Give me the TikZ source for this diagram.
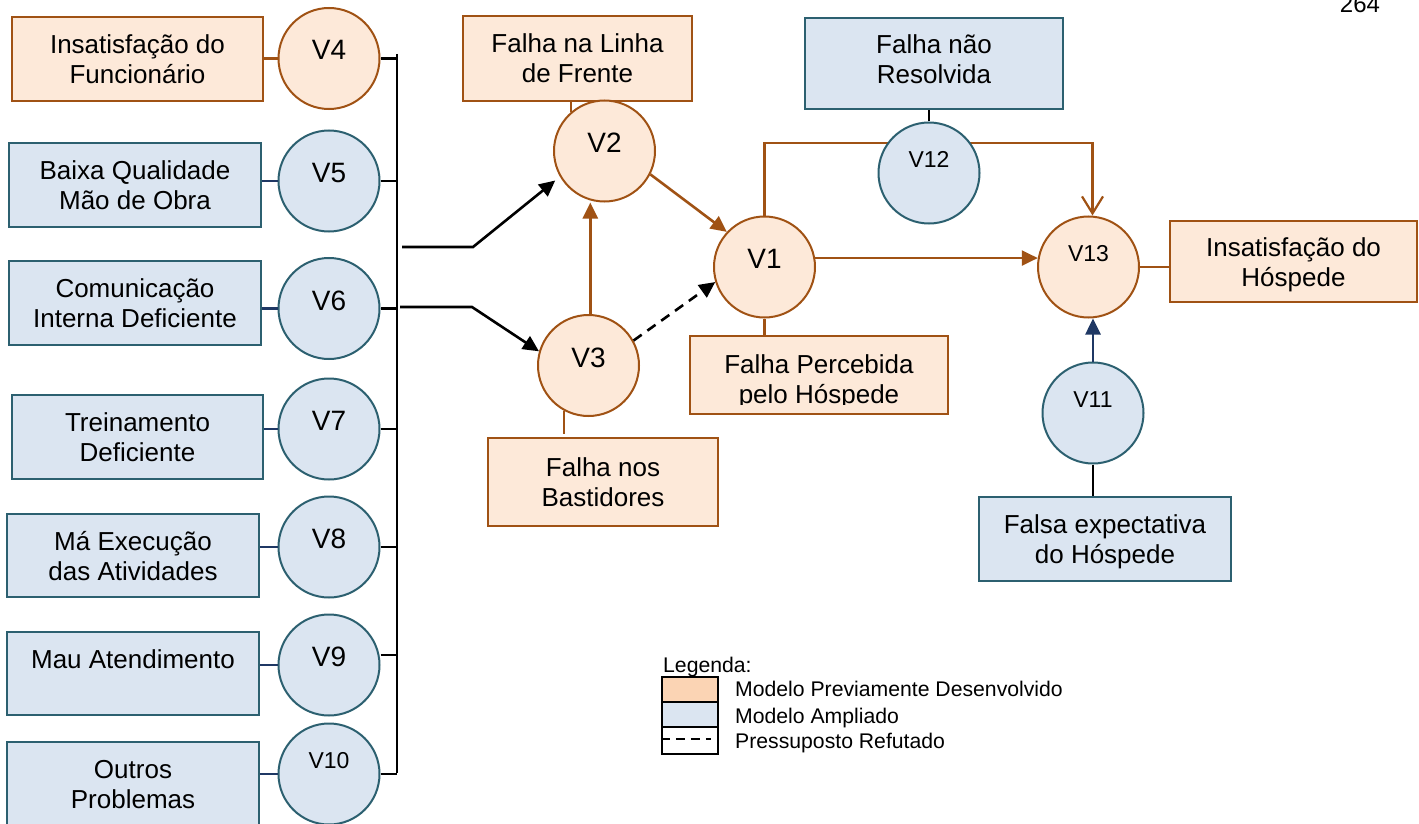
\documentclass[tikz,border=0pt]{standalone}
\usepackage{fontspec}
\setmainfont{Liberation Sans}
\usetikzlibrary{arrows.meta,backgrounds}

\definecolor{ofill}{HTML}{FDE9D9}
\definecolor{obrd}{RGB}{160,82,20}
\definecolor{bfill}{HTML}{DBE5F1}
\definecolor{bbrd}{RGB}{44,96,112}
\definecolor{navy}{HTML}{1F3864}
\definecolor{legor}{HTML}{FBD4B4}

% one text line with fixed cap-height extent, so two-line blocks centre evenly
\newcommand\bxl[1]{\rule{0pt}{19pt}\smash{#1}}

\tikzset{
  boxtxt/.style={inner sep=0pt, align=center, font=\fontsize{26}{30}\selectfont},
  box/.style={rectangle, line width=2.2pt, boxtxt},
  obox/.style={box, draw=obrd, fill=ofill},
  bbox/.style={box, draw=bbrd, fill=bfill},
  vc/.style={circle, line width=2pt, inner sep=0pt, minimum size=101pt},
  ovc/.style={vc, draw=obrd, fill=ofill},
  bvc/.style={vc, draw=bbrd, fill=bfill},
  vbig/.style={font=\fontsize{28}{30}\selectfont, text height=20pt, text depth=17pt},
  vsmall/.style={font=\fontsize{23}{26}\selectfont, text height=16.5pt, text depth=28pt},
  olink/.style={draw=obrd, line width=2.2pt},
  nlink/.style={draw=navy, line width=2.2pt},
  klink/.style={draw=black, line width=2.2pt},
  bus/.style={draw=black, line width=2.5pt},
  tipf/.style={-{Triangle[length=16pt,width=15pt]}},
  karr/.style={draw=black, line width=2.6pt, tipf},
  oarr/.style={draw=obrd, line width=2.6pt, tipf},
  narr/.style={draw=navy, line width=2.6pt, tipf},
  darr/.style={draw=black, line width=2.6pt, dash pattern=on 10pt off 7pt, tipf},
  lgt/.style={inner sep=0pt, font=\fontsize{21.2}{25}\selectfont},
  swatch/.style={rectangle, draw=black, line width=2.2pt, inner sep=0pt, minimum width=56pt},
}

\begin{document}
\begin{tikzpicture}[x=1pt, y=-1pt]
\useasboundingbox (0,0) rectangle (1419,824);

% ---- left column: causes and their variables ----
\node[obox, minimum width=251pt, minimum height=84pt] (B4) at (137.5,59) {\bxl{Insatisfação do}\\\bxl{Funcionário}};
\node[bbox, minimum width=252pt, minimum height=84pt] (B5) at (135,185) {\bxl{Baixa Qualidade}\\\bxl{Mão de Obra}};
\node[bbox, minimum width=252pt, minimum height=84pt] (B6) at (135,303) {\bxl{Comunicação}\\\bxl{Interna Deficiente}};
\node[bbox, minimum width=251pt, minimum height=84pt] (B7) at (137.5,437) {\bxl{Treinamento}\\\bxl{Deficiente}};
\node[bbox, minimum width=252pt, minimum height=83pt] (B8) at (133,555.5) {\bxl{Má Execução}\\\bxl{das Atividades}};
\node[bbox, minimum width=252pt, minimum height=83pt] (B9) at (133,673.5) {\bxl{Mau Atendimento}\\\bxl{}};
\node[bbox, minimum width=252pt, minimum height=84pt] (B10) at (133,784) {\bxl{Outros}\\\bxl{Problemas}};

\node[ovc, vbig] (V4) at (329,58.5) {V4};
\node[bvc, vbig] (V5) at (329,181) {V5};
\node[bvc, vbig] (V6) at (329,308.5) {V6};
\node[bvc, vbig] (V7) at (329,429) {V7};
\node[bvc, vbig] (V8) at (329,547) {V8};
\node[bvc, vbig] (V9) at (329,665) {V9};
\node[bvc, vsmall] (V10) at (329,774) {V10};

% ---- centre: failure variables ----
\node[obox, minimum width=229pt, minimum height=85pt] (LIN) at (577.5,58.5) {\bxl{Falha na Linha}\\\bxl{de Frente}};
\node[ovc, vbig] (V2) at (604.5,151) {V2};
\node[ovc, vbig] (V3) at (588.5,365.5) {V3};
\node[obox, minimum width=230pt, minimum height=88pt] (BAS) at (603,482) {\bxl{Falha nos}\\\bxl{Bastidores}};
\node[ovc, vbig] (V1) at (764.5,267) {V1};
\node[obox, minimum width=258pt, minimum height=78pt] (PER) at (819,375) {};
\begin{scope}
  \clip (PER.north west) rectangle ([yshift=11pt]PER.south east);
  \node[boxtxt] (PERt) at (819,378.5) {\bxl{Falha Percebida}\\\bxl{pelo Hóspede}};
\end{scope}

% ---- right: outcome ----
\node[bbox, minimum width=258pt, minimum height=91pt] (RES) at (934,63.5) {};
\node[boxtxt] (RESt) at (934,59) {\bxl{Falha não}\\\bxl{Resolvida}};
\node[bvc, vsmall] (V12) at (929,173) {V12};
\node[ovc, vsmall] (V13) at (1088.5,267) {V13};
\node[obox, minimum width=247pt, minimum height=81pt] (HOS) at (1293.5,261.5) {\bxl{Insatisfação do}\\\bxl{Hóspede}};
\node[bvc, vsmall] (V11) at (1093,413) {V11};
\node[bbox, minimum width=252pt, minimum height=84pt] (FAL) at (1105,539) {\bxl{Falsa expectativa}\\\bxl{do Hóspede}};

\node[inner sep=0pt, anchor=base, font=\fontsize{24}{28}\selectfont] (pg) at (1360,13) {264};

% ---- legend ----
\node[lgt, anchor=base west] (legT) at (663,672) {Legenda:};
\node[swatch, fill=legor, minimum height=25pt] (sw1) at (690,689.5) {};
\node[swatch, fill=bfill, minimum height=25pt] (sw2) at (690,714.5) {};
\node[swatch, fill=white, minimum height=27pt] (sw3) at (690,740.5) {};
\draw[black, line width=1.8pt, dash pattern=on 9pt off 6pt] ([yshift=1.5pt]sw3.west) -- ([xshift=-8pt,yshift=1.5pt]sw3.east);
\node[lgt, anchor=base west] (lg1) at (735,696) {Modelo Previamente Desenvolvido};
\node[lgt, anchor=base west] (lg2) at (735,723) {Modelo Ampliado};
\node[lgt, anchor=base west] (lg3) at (735,748) {Pressuposto Refutado};

% ---- connectors ----
\coordinate (busT) at (397,54);
\coordinate (busB) at (397,773);
\coordinate (o1) at (402,247);
\coordinate (k1) at (473,247);
\coordinate (o2) at (400,307);
\coordinate (k2) at (472,307);
\coordinate (lp) at (800,143);
\coordinate (V13n) at ([xshift=4pt]V13.north);

% box to variable
\draw[olink] (B4.east |- V4.west) -- (V4.west);
\foreach \i in {5,...,10} {\draw[nlink] (B\i.east |- V\i.west) -- (V\i.west);}

% variables to the collecting bus
\draw[bus] (busT) -- (busB);
\foreach \i in {4,5,6,7,8,10} {\draw[bus] (V\i.east) -- (V\i.east -| busT);}
\draw[bus] ([yshift=10pt]V9.east) -- ([yshift=10pt]V9.east -| busT);

% bus to V2 and V3
\draw[karr, shorten >=6pt] (o1) -- (k1) -- (V2.210);
\draw[karr] (o2) -- (k2) -- (V3.164);

% structural paths
\draw[oarr] (V3.88) -- (V3.88 |- V2.south);
\draw[oarr] (V2.-27) -- (V1.137);
\draw[darr] (V3.29) -- (V1.197);
\draw[oarr] (V1.10) -- (V13.170);
\draw[narr] (V11.north) -- (V11.north |- V13.south);

% variable to its description
\draw[olink] (V2.131) -- (V2.131 |- LIN.south);
\draw[olink, shorten >=3pt] (V3.242) -- (V3.242 |- BAS.north);
\draw[olink] (V1.south) -- (V1.south |- PER.north);
\draw[olink] (V13.east) -- (V13.east -| HOS.west);
\draw[klink] (V12.north) -- (V12.north |- RES.south);
\draw[klink] (V11.south) -- (V11.south |- FAL.north);

% moderated path V1 -> V13 through V12
\begin{scope}[on background layer]
\draw[draw=obrd, line width=2.2pt, -{Straight Barb[length=17pt,width=21pt]}]
  (V1.north) -- (V1.north |- lp) -- (lp -| V13n) -- (V13n);
\end{scope}
\end{tikzpicture}
\end{document}
